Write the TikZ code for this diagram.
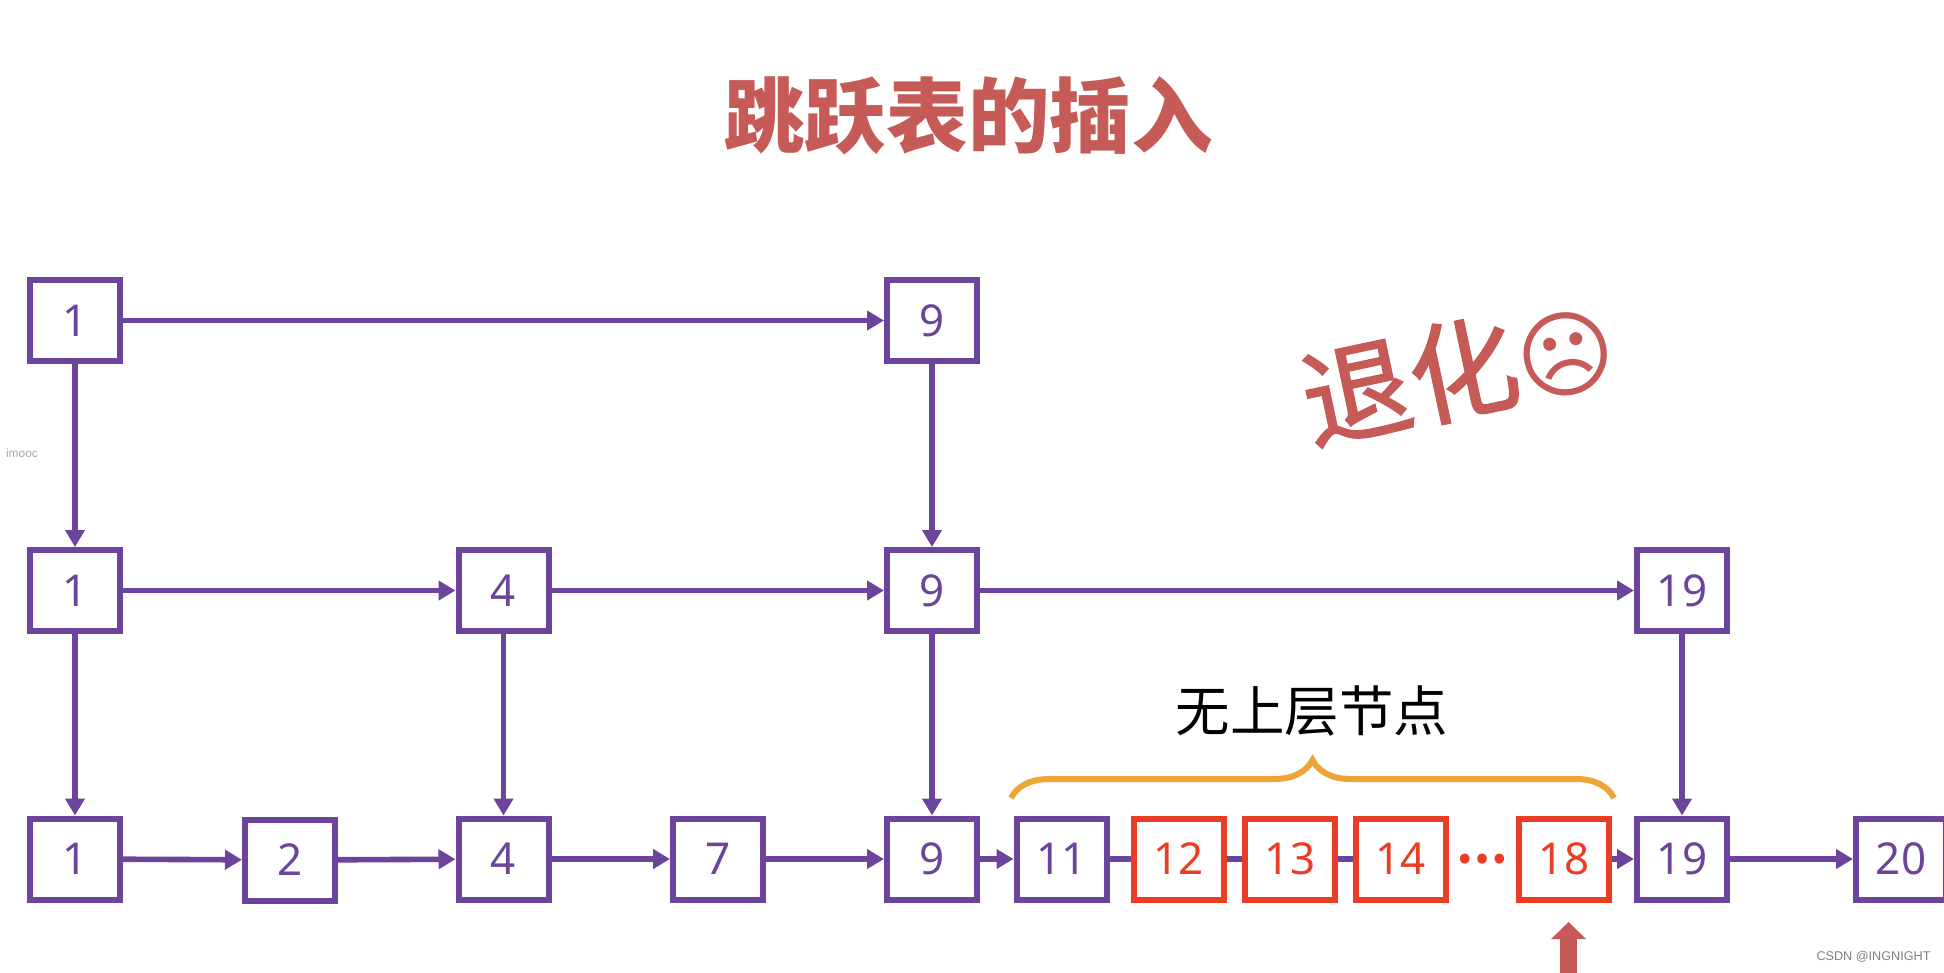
\documentclass[tikz,border=0pt]{standalone}
\usepackage{fontspec}
\setmainfont{Liberation Sans}
\newfontfamily\cjk{Noto Sans CJK SC}
\newfontfamily\cjkfat[FakeBold=1.5]{Noto Sans CJK SC}
\newfontfamily\numfont{Noto Sans}
\newfontfamily\symfont{DejaVu Sans}
\usetikzlibrary{arrows.meta,decorations.pathreplacing}
\definecolor{listpurple}{HTML}{6C449C}
\definecolor{newred}{HTML}{E93D25}
\definecolor{titlered}{HTML}{C55A57}
\definecolor{braceorange}{HTML}{EFA436}
\tikzset{
    listnode/.style={draw=listpurple, text=listpurple, fill=white, rectangle, line width=0.06cm, minimum width=0.90cm, minimum height=0.81cm, inner sep=0pt, font=\numfont\fontsize{12.5}{15}\selectfont},
    newnode/.style={listnode, draw=newred, text=newred},
    link/.style={draw=listpurple, line width=0.056cm, -{Triangle[length=0.17cm,width=0.19cm]}},
    plainlink/.style={draw=listpurple, line width=0.056cm},
}
\begin{document}
\begin{tikzpicture}
    \useasboundingbox (0,0) rectangle (19.44,9.72);
    \node[text=titlered, inner sep=0pt, font=\cjk\bfseries\fontsize{23.2}{28}\selectfont] (title) at (9.68,8.56) {跳跃表的插入};
    \node[text=titlered, inner sep=0pt, rotate=12, font=\fontsize{31}{36}\selectfont] (degrade) at (14.58,6.02) {{\cjkfat 退化}{\symfont\fontsize{27}{32}\selectfont ☹}};

    \node[listnode] (top1) at (0.75,6.515) {1};
    \node[listnode] (top9) at (9.32,6.515) {9};

    \node[listnode] (mid1) at (0.75,3.815) {1};
    \node[listnode] (mid4) at (5.035,3.815) {4};
    \node[listnode] (mid9) at (9.32,3.815) {9};
    \node[listnode] (mid19) at (16.82,3.815) {19};

    \node[listnode] (low1) at (0.75,1.13) {1};
    \node[listnode] (low2) at (2.90,1.12) {2};
    \node[listnode] (low4) at (5.035,1.13) {4};
    \node[listnode] (low7) at (7.18,1.13) {7};
    \node[listnode] (low9) at (9.32,1.13) {9};
    \node[listnode] (low11) at (10.615,1.13) {11};
    \node[newnode] (low12) at (11.785,1.13) {12};
    \node[newnode] (low13) at (12.90,1.13) {13};
    \node[newnode] (low14) at (14.005,1.13) {14};
    \node[text=newred, inner sep=0pt, font=\cjk\bfseries\fontsize{13}{16}\selectfont] (dots) at (14.82,1.13) {…};
    \node[newnode] (low18) at (15.64,1.13) {18};
    \node[listnode] (low19) at (16.82,1.13) {19};
    \node[listnode] (low20) at (19.01,1.13) {20};

    \draw[link] (top1) -- (top9);
    \draw[link] (top1) -- (mid1);
    \draw[link] (top9) -- (mid9);

    \draw[link] (mid1) -- (mid4);
    \draw[link] (mid4) -- (mid9);
    \draw[link] (mid9) -- (mid19);
    \draw[link] (mid1) -- (low1);
    \draw[link] (mid4) -- (low4);
    \draw[link] (mid9) -- (low9);
    \draw[link] (mid19) -- (low19);

    \draw[link] (low1) -- (low2);
    \draw[link] (low2) -- (low4);
    \draw[link] (low4) -- (low7);
    \draw[link] (low7) -- (low9);
    \draw[link] (low9) -- (low11);
    \draw[plainlink] (low11) -- (low12);
    \draw[plainlink] (low12) -- (low13);
    \draw[plainlink] (low13) -- (low14);
    \draw[link] (low18) -- (low19);
    \draw[link] (low19) -- (low20);

    % brace over the run of new nodes
    \coordinate (braceleft) at (10.11,1.74);
    \coordinate (braceright) at (16.14,1.74);
    \draw[braceorange, line width=0.06cm, decorate, decoration={brace, amplitude=0.38cm}] (braceleft) -- (braceright);
    \node[text=black, inner sep=0pt, font=\cjk\fontsize{15.5}{18}\selectfont] (nolevel) at (13.12,2.61) {无上层节点};

    \coordinate (insertfrom) at (15.685,-0.05);
    \coordinate (insertto) at (15.685,0.50);
    \draw[titlered, line width=0.17cm, -{Triangle[length=0.17cm,width=0.34cm]}] (insertfrom) -- (insertto);

    \node[text=black!35, inner sep=0pt, font=\fontsize{3.4}{4}\selectfont] (imooc) at (0.22,5.19) {imooc};
    \node[text=black!50, inner sep=0pt, font=\fontsize{3.6}{4}\selectfont] (csdn) at (18.735,0.15) {CSDN @INGNIGHT};
\end{tikzpicture}
\end{document}
